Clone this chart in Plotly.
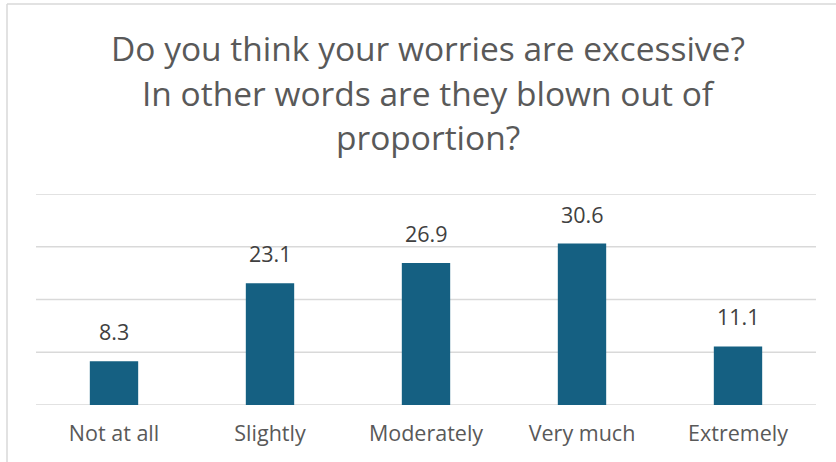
import plotly.graph_objects as go

categories = ["Not at all", "Slightly", "Moderately", "Very much", "Extremely"]
percentages = [8.3, 23.1, 26.9, 30.6, 11.1]
y_ticks = [0, 10, 20, 30, 40]
title_lines = [
    "Do you think your worries are excessive?",
    "In other words are they blown out of",
    "proportion?",
]

W, H = 836, 462
L, R, T, B = 36, 20, 194, 57
plot_w = W - L - R
plot_h = H - T - B

FONT = "Open Sans"
BAR = "#156082"
GRID = "#d9d9d9"

fig = go.Figure(
    go.Bar(
        x=categories,
        y=percentages,
        marker=dict(color=BAR, line=dict(width=0)),
        width=0.31,
        hoverinfo="skip",
    )
)

# horizontal gridlines, including the baseline and the top edge
for v in y_ticks:
    fig.add_shape(type="line", xref="paper", yref="y",
                  x0=0, x1=1, y0=v, y1=v,
                  line=dict(color=GRID, width=1.5), layer="below")

# value labels above each bar
for cat, val in zip(categories, percentages):
    fig.add_annotation(
        x=cat, y=val, xref="x", yref="y",
        text=f"{val}", showarrow=False,
        yanchor="bottom", yshift=13,
        font=dict(family=FONT, size=21.5, color="#404040"),
    )

def px_x(p):
    return (p - L) / plot_w

def px_y(p):
    return (H - B - p) / plot_h

# three-line chart title
title_y_px = [48, 93, 137]
for line, ypx in zip(title_lines, title_y_px):
    fig.add_annotation(
        x=px_x(428), y=px_y(ypx),
        xref="paper", yref="paper",
        text=line, showarrow=False,
        xanchor="center", yanchor="middle",
        font=dict(family=FONT, size=33.5, color="#595959"),
    )

# chart frame (top and left edges)
frame = dict(color=GRID, width=1.5)
fig.add_shape(type="line", xref="paper", yref="paper",
              x0=px_x(7), x1=px_x(840), y0=px_y(4), y1=px_y(4), line=frame)
fig.add_shape(type="line", xref="paper", yref="paper",
              x0=px_x(7), x1=px_x(7), y0=px_y(4), y1=px_y(470), line=frame)

fig.update_layout(
    width=W, height=H,
    margin=dict(l=L, r=R, t=T, b=B),
    paper_bgcolor="white",
    plot_bgcolor="white",
    showlegend=False,
    xaxis=dict(
        showgrid=False, showline=False, zeroline=False, ticks="",
        tickfont=dict(family=FONT, size=21.5, color="#595959"),
        ticklabelstandoff=13,
    ),
    yaxis=dict(
        range=[0, 40], tickvals=y_ticks, showticklabels=False,
        showgrid=False, zeroline=False, showline=False, ticks="",
    ),
)

fig.write_html("out.html")
